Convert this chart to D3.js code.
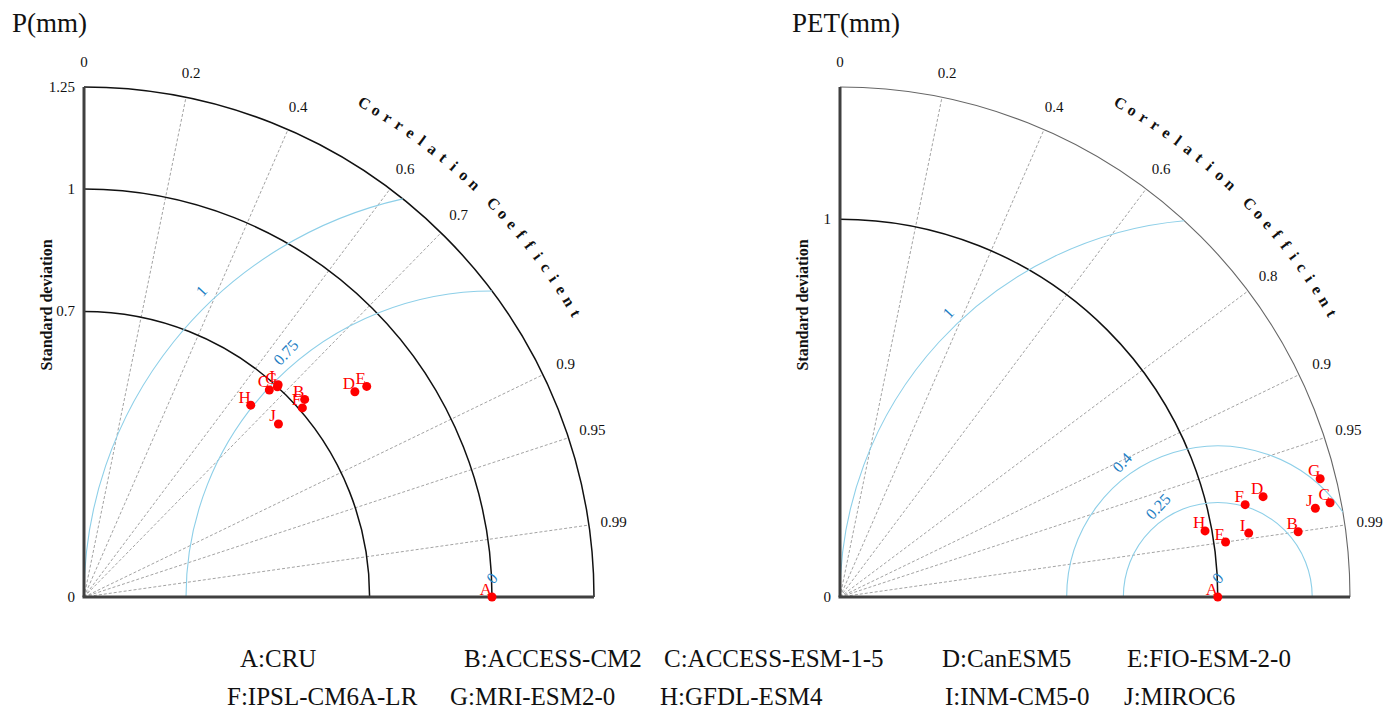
<!DOCTYPE html>
<html><head><meta charset="utf-8">
<script src="https://cdn.jsdelivr.net/npm/d3@7"></script>
<style>
body{margin:0;background:#fff}
svg{display:block}
</style>
</head><body>
<svg id="c" width="1400" height="710" font-family="'Liberation Serif', 'Times New Roman', 'DejaVu Serif', serif"></svg>
<script>
// ---------------- data ----------------
const modelLabels = ["A","B","C","D","E","F","G","H","I","J"];
const modelNames  = ["CRU","ACCESS-CM2","ACCESS-ESM-1-5","CanESM5","FIO-ESM-2-0","IPSL-CM6A-LR","MRI-ESM2-0","GFDL-ESM4","INM-CM5-0","MIROC6"];

const pStd   = [1.000,0.726,0.681,0.833,0.864,0.708,0.700,0.623,0.705,0.638];
const pCorr  = [1.000,0.745,0.667,0.797,0.802,0.756,0.677,0.656,0.675,0.747];
const petStd = [1.000,1.225,1.321,1.151,1.031,1.100,1.309,0.982,1.095,1.280];
const petCorr= [1.000,0.990,0.982,0.973,0.990,0.975,0.971,0.984,0.988,0.983];

const pStdTicks   = [0,0.7,1,1.25];
const petStdTicks = [0,1];
const pStdArcs    = [0.7,1];
const petStdArcs  = [1];
const pCorrTicks  = [0,0.2,0.4,0.6,0.7,0.9,0.95,0.99];
const petCorrTicks= [0,0.2,0.4,0.6,0.8,0.9,0.95,0.99];
const pRms   = [0,0.75,1];
const petRms = [0,0.25,0.4,1];
const pMaxStd = 1.25, petMaxStd = 1.35;

// ---------------- drawing ----------------
const FONT = "'Liberation Serif', 'Times New Roman', 'DejaVu Serif', serif";
const svg = d3.select("#c");

function taylor(cfg){
  const g = svg.append("g").attr("font-family",FONT);
  const ox = cfg.ox, oy = cfg.oy, R = cfg.R;
  const r = d3.scaleLinear().domain([0,cfg.maxStd]).range([0,R]);
  const pt = (s,c)=>{const th=Math.acos(c); return [ox + r(s)*Math.cos(th), oy - r(s)*Math.sin(th)];};

  // dashed correlation lines
  g.selectAll("line.cl").data(cfg.corrTicks.filter(c=>c>0)).join("line")
    .attr("x1",ox).attr("y1",oy)
    .attr("x2",c=>pt(cfg.maxStd,c)[0]).attr("y2",c=>pt(cfg.maxStd,c)[1])
    .attr("stroke","#8c8c8c").attr("stroke-width",0.8).attr("stroke-dasharray","3,2");

  // std arcs
  const arcPath = rad => {const p=d3.path(); p.moveTo(ox, oy-rad); p.arc(ox,oy,rad,-Math.PI/2,0); return p.toString();};
  g.selectAll("path.sa").data(cfg.stdArcs).join("path")
    .attr("d",s=>arcPath(r(s))).attr("fill","none").attr("stroke","#111").attr("stroke-width",1.5);
  g.append("path").attr("d",arcPath(R)).attr("fill","none")
    .attr("stroke",cfg.outerColor).attr("stroke-width",cfg.outerWidth);

  // RMS arcs centred at reference
  const d = r(cfg.refStd);
  const rmsPath = v => {
    const rho = r(v);
    let c = (R*R - d*d - rho*rho)/(2*d*rho); c = Math.max(-1,Math.min(1,c));
    const phi0 = Math.acos(c);
    let phi1 = Math.PI; const cx2 = -d/rho; if(cx2 > -1) phi1 = Math.acos(cx2);
    const p = d3.path();
    p.moveTo(ox+d+rho*Math.cos(phi0), oy-rho*Math.sin(phi0));
    p.arc(ox+d, oy, rho, -phi0, -phi1, true);
    return p.toString();
  };
  g.selectAll("path.rms").data(cfg.rms.filter(v=>v>0)).join("path")
    .attr("d",rmsPath).attr("fill","none").attr("stroke","#8dcfe8").attr("stroke-width",1.1);
  g.selectAll("text.rmsl").data(cfg.rms).join("text")
    .attr("transform",v=>{
      let x,y;
      if(v===0){x=ox+d; y=oy-19;}
      else {const phiL=(120+13.5*v)*Math.PI/180; const rr=r(v)+14;
            x=ox+d+rr*Math.cos(phiL); y=oy-rr*Math.sin(phiL);}
      return `translate(${x},${y}) rotate(-47)`;})
    .attr("text-anchor","middle").attr("dominant-baseline","central")
    .attr("fill","#1f7fc4").attr("font-size",16).text(v=>String(v));

  // axes
  g.append("line").attr("x1",ox).attr("y1",oy).attr("x2",ox).attr("y2",oy-R)
    .attr("stroke","#404040").attr("stroke-width",3);
  g.append("line").attr("x1",ox-1.5).attr("y1",oy).attr("x2",ox+R).attr("y2",oy)
    .attr("stroke","#404040").attr("stroke-width",3);

  // std tick labels
  g.selectAll("text.st").data(cfg.stdTicks).join("text")
    .attr("x",ox-9).attr("y",s=>oy-r(s)).attr("text-anchor","end").attr("dominant-baseline","central")
    .attr("font-size",15).attr("fill","#111").text(s=>String(s));

  // correlation tick labels
  g.selectAll("text.ct").data(cfg.corrTicks).join("text")
    .attr("x",c=>ox+(R+25)*c).attr("y",c=>oy-(R+25)*Math.sqrt(1-c*c))
    .attr("text-anchor","middle").attr("dominant-baseline","central")
    .attr("font-size",15).attr("fill","#111").text(c=>String(c));

  // curved title
  const chars = "Correlation Coefficient".split("");
  const ang = d3.scaleLinear().domain([0,chars.length-1]).range([60.4,30]);
  g.selectAll("text.cc").data(chars).join("text")
    .attr("transform",(ch,i)=>{const a=ang(i)*Math.PI/180; const tr=568;
      return `translate(${ox+tr*Math.cos(a)},${oy-tr*Math.sin(a)}) rotate(${90-ang(i)})`;})
    .attr("text-anchor","middle").attr("dominant-baseline","central")
    .attr("font-size",16).attr("font-weight","bold").attr("fill","#111").text(ch=>ch);

  // y title
  g.append("text").attr("transform",`translate(${ox-38},305) rotate(-90)`)
    .attr("text-anchor","middle").attr("dominant-baseline","central")
    .attr("font-size",16).attr("font-weight","bold").attr("fill","#111").text("Standard deviation");

  // panel title
  g.append("text").attr("x",cfg.titleX).attr("y",32).attr("font-size",27).attr("fill","#111").text(cfg.title);

  // points
  const pts = modelLabels.map((l,i)=>({l, p:pt(cfg.std[i],cfg.corr[i])}));
  g.selectAll("circle.pt").data(pts).join("circle")
    .attr("cx",d=>d.p[0]).attr("cy",d=>d.p[1]).attr("r",4.5).attr("fill","#ff0000");
  g.selectAll("text.pl").data(pts).join("text")
    .attr("x",d=>d.p[0]-6).attr("y",d=>d.p[1]-8)
    .attr("text-anchor","middle").attr("dominant-baseline","central")
    .attr("font-size",17).attr("fill","#ff0000").text(d=>d.l);
}

taylor({ox:84, oy:597, R:510, maxStd:pMaxStd, refStd:pStd[0], std:pStd, corr:pCorr,
  stdTicks:pStdTicks, stdArcs:pStdArcs, corrTicks:pCorrTicks, rms:pRms,
  outerColor:"#111", outerWidth:1.5, title:"P(mm)", titleX:12});
taylor({ox:840, oy:597, R:510, maxStd:petMaxStd, refStd:petStd[0], std:petStd, corr:petCorr,
  stdTicks:petStdTicks, stdArcs:petStdArcs, corrTicks:petCorrTicks, rms:petRms,
  outerColor:"#666", outerWidth:1.1, title:"PET(mm)", titleX:792});

// legend
const legendRowY = [667, 705];
const legendColX = [[240,464,664,942,1127],[227,450,660,945,1124]];
svg.append("g").attr("font-family",FONT).selectAll("text").data(modelLabels).join("text")
  .attr("x",(l,i)=>legendColX[Math.floor(i/5)][i%5])
  .attr("y",(l,i)=>legendRowY[Math.floor(i/5)])
  .attr("font-size",25).attr("fill","#111")
  .text((l,i)=>l+":"+modelNames[i]);
</script>
</body></html>
